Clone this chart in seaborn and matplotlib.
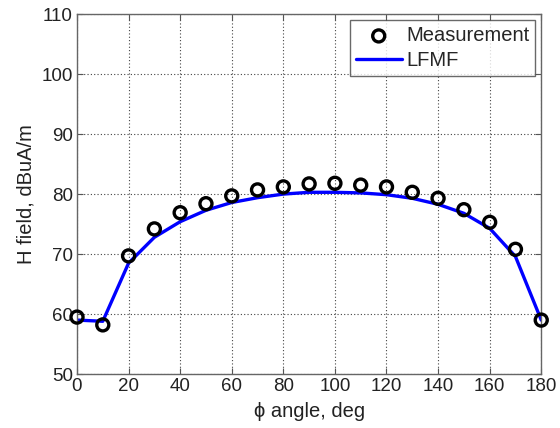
import matplotlib
matplotlib.use("Agg")
import matplotlib.pyplot as plt
import seaborn as sns
import pandas as pd

# angle in degrees
angles = [0, 10, 20, 30, 40, 50, 60, 70, 80, 90, 100, 110, 120, 130, 140, 150, 160, 170, 180]
# measured H field, dBuA/m
measured = [59.5, 58.2, 69.7, 74.2, 76.9, 78.4, 79.7, 80.7, 81.2, 81.7, 81.8, 81.5, 81.2,
            80.3, 79.3, 77.4, 75.3, 70.8, 59.0]
# LFMF prediction
lfmf = [59.0, 58.8, 68.5, 72.8, 75.4, 77.3, 78.6, 79.4, 80.0, 80.3, 80.3, 80.2, 79.9,
        79.3, 78.3, 76.8, 74.3, 69.6, 59.0]

df = pd.DataFrame({"angle": angles, "Measurement": measured, "LFMF": lfmf})

sns.set_style("ticks")
plt.rcParams["font.family"] = ["Liberation Sans", "DejaVu Sans"]

fig = plt.figure(figsize=(5.6, 4.28), dpi=100)
ax = fig.add_axes([0.1375, 0.126, 0.829, 0.841])

sns.scatterplot(data=df, x="angle", y="Measurement", ax=ax, marker="o", s=75,
                facecolor="none", edgecolor="black", linewidth=2.4,
                label="Measurement", zorder=3, clip_on=False)
sns.lineplot(data=df, x="angle", y="LFMF", ax=ax, color="#0000ff", linewidth=2.4,
             label="LFMF", zorder=2)

ax.set_xlim(0, 180)
ax.set_ylim(50, 110)
ax.set_xticks(range(0, 181, 20))
ax.set_yticks(range(50, 111, 10))
ax.grid(True, color="#444444", linestyle=(0, (1, 2)), linewidth=0.8)
ax.tick_params(direction="in", top=True, right=True, labelsize=13.5, length=4,
               color="#555555", labelcolor="#222222", pad=3)
for sp in ax.spines.values():
    sp.set_color("#666666")
    sp.set_linewidth(1.0)

ax.set_xlabel("ϕ angle, deg", fontsize=14.5, color="#222222", labelpad=5)
ax.set_ylabel("H field, dBuA/m", fontsize=14.5, color="#222222", labelpad=4)

leg = ax.legend(loc="upper right", fontsize=14.5, frameon=True, fancybox=False,
                edgecolor="#444444", borderaxespad=0.3, handlelength=2.3,
                handletextpad=0.2, borderpad=0.3, labelspacing=0.3)
leg.get_frame().set_linewidth(1.0)

fig.savefig("out.png", dpi=100)
